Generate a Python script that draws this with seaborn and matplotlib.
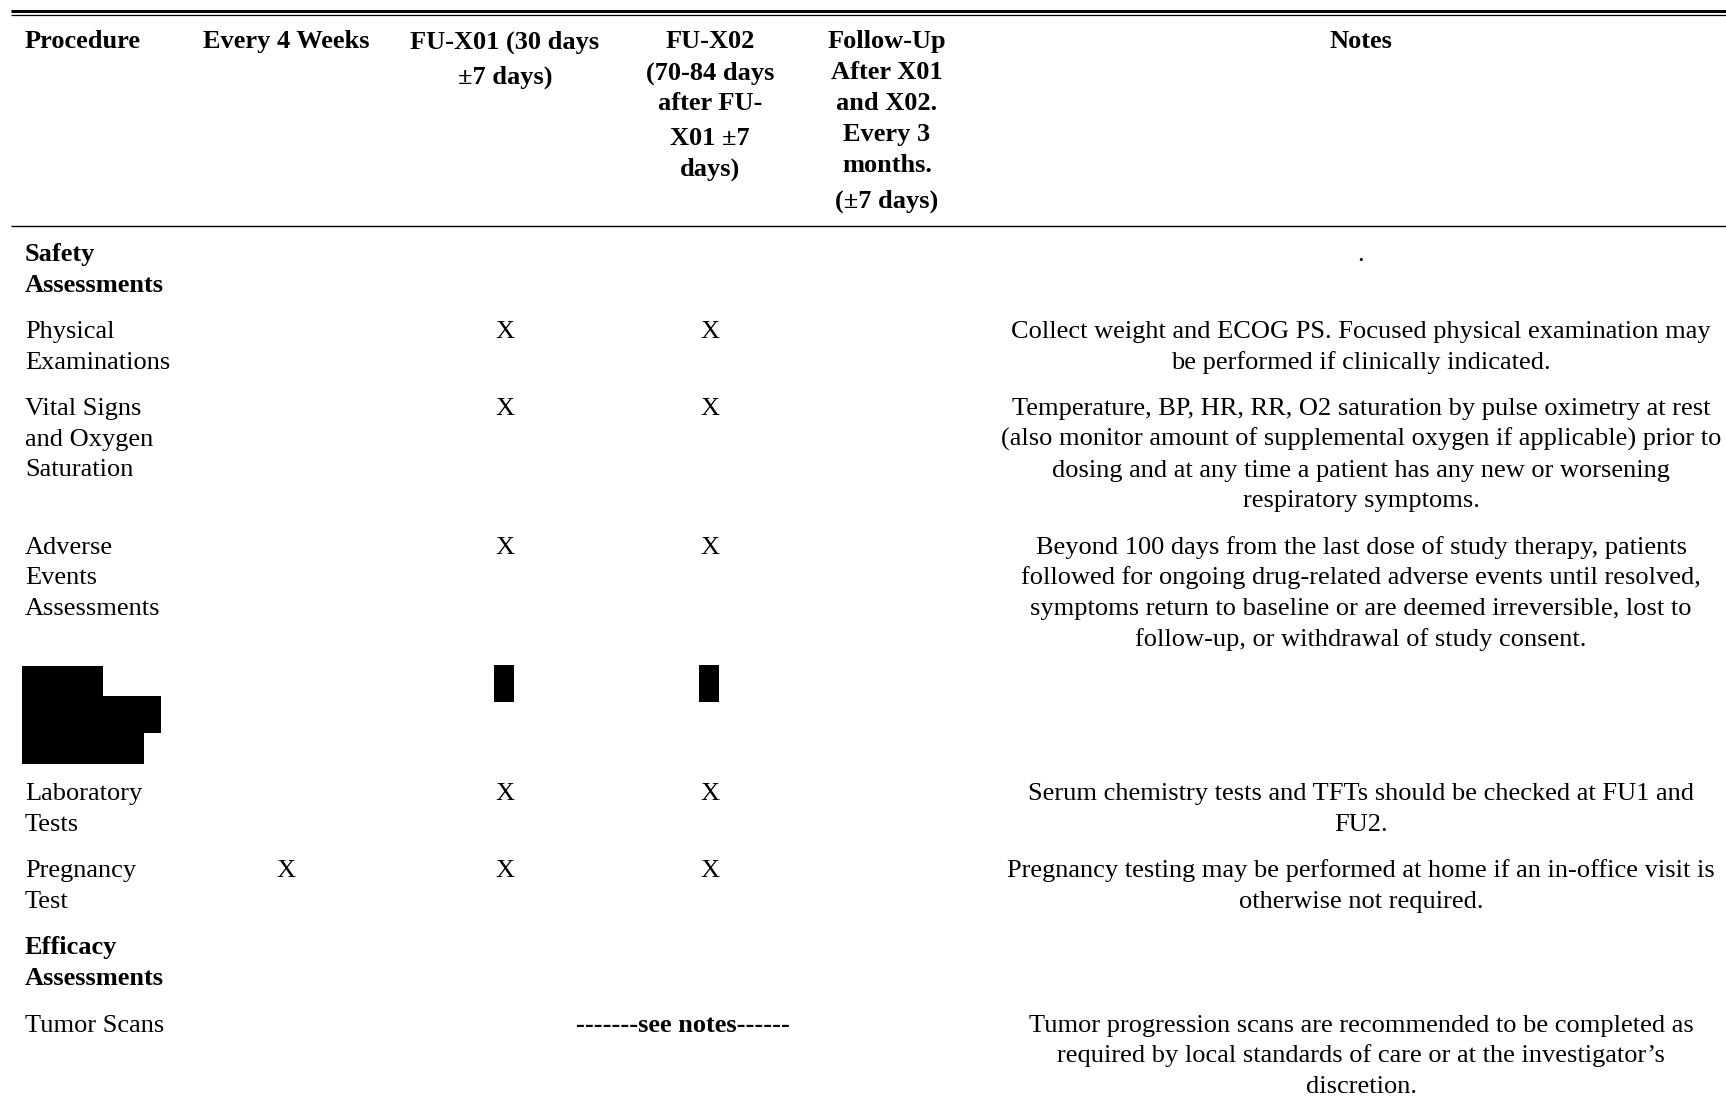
import matplotlib
matplotlib.use("Agg")
import matplotlib.pyplot as plt
from matplotlib.patches import Rectangle
import seaborn as sns

# table content
headers = [
    "Procedure",
    "Every 4 Weeks",
    "FU-X01 (30 days\n±7 days)",
    "FU-X02\n(70-84 days\nafter FU-\nX01 ±7\ndays)",
    "Follow-Up\nAfter X01\nand X02.\nEvery 3\nmonths.\n(±7 days)",
    "Notes",
]

procedures = [
    "Safety\nAssessments",
    "Physical\nExaminations",
    "Vital Signs\nand Oxygen\nSaturation",
    "Adverse\nEvents\nAssessments",
    "",
    "Laboratory\nTests",
    "Pregnancy\nTest",
    "Efficacy\nAssessments",
    "Tumor Scans",
]
section_rows = [True, False, False, False, False, False, False, True, False]
redacted_rows = [False, False, False, False, True, False, False, False, False]

every_4_weeks = ["", "", "", "", "", "", "X", "", ""]
fu_x01 = ["", "X", "X", "X", "", "X", "X", "", ""]
fu_x02 = ["", "X", "X", "X", "", "X", "X", "", ""]
follow_up = ["", "", "", "", "", "", "", "", ""]
spanning = ["", "", "", "", "", "", "", "", "-------see notes------"]

notes = [
    ".",
    "Collect weight and ECOG PS. Focused physical examination may\n"
    "be performed if clinically indicated.",
    "Temperature, BP, HR, RR, O2 saturation by pulse oximetry at rest\n"
    "(also monitor amount of supplemental oxygen if applicable) prior to\n"
    "dosing and at any time a patient has any new or worsening\n"
    "respiratory symptoms.",
    "Beyond 100 days from the last dose of study therapy, patients\n"
    "followed for ongoing drug-related adverse events until resolved,\n"
    "symptoms return to baseline or are deemed irreversible, lost to\n"
    "follow-up, or withdrawal of study consent.",
    "",
    "Serum chemistry tests and TFTs should be checked at FU1 and\nFU2.",
    "Pregnancy testing may be performed at home if an in-office visit is\n"
    "otherwise not required.",
    "",
    "Tumor progression scans are recommended to be completed as\n"
    "required by local standards of care or at the investigator\u2019s\n"
    "discretion.",
]

sns.set_theme(style="white")
plt.rcParams["font.family"] = ["Liberation Serif", "DejaVu Serif"]

W, H = 1726, 1107
FS = 19
STEP = 30.8
GAP = 15.5
BASE = 8.7  # baseline sits below the cap-height centre
fig = plt.figure(figsize=(W / 100, H / 100), dpi=100)
ax = fig.add_axes([0, 0, 1, 1])
ax.set_xlim(0, W)
ax.set_ylim(H, 0)
ax.axis("off")

col_x = [25, 286, 505, 710, 887, 1361]
col_ha = ["left", "center", "center", "center", "center", "center"]


def draw_lines(x, y, text, ha="center", weight="normal"):
    n = 0
    for line in text.split("\n"):
        if line.startswith("(±"):
            y += 5
        elif "±" in line:
            y += 4.5
        ax.text(x, y + BASE, line, ha=ha, va="baseline", fontsize=FS,
                fontweight=weight, color="black")
        y += STEP
        n += 1
    return n


# rules
ax.plot([11, W], [11, 11], color="black", lw=2.2, solid_capstyle="butt")
ax.plot([11, W], [14.8, 14.8], color="black", lw=0.9, solid_capstyle="butt")
ax.plot([11, W], [226, 226], color="black", lw=1.0, solid_capstyle="butt")

# header
for x, ha, h in zip(col_x, col_ha, headers):
    draw_lines(x, 39.6, h, ha=ha, weight="bold")

# body
y = 252
for i, proc in enumerate(procedures):
    weight = "bold" if section_rows[i] else "normal"
    n = 1
    if redacted_rows[i]:
        top = y - 18
        for (x0, x1, y0, y1) in [(22, 103, 0, 30), (22, 161, 30, 67), (22, 144, 67, 98)]:
            ax.add_patch(Rectangle((x0, top + y0), x1 - x0, y1 - y0, color="black", lw=0))
        for cx in (col_x[2], col_x[3]):
            ax.add_patch(Rectangle((cx - 11, top - 1), 20, 37, color="black", lw=0))
        n = 3
    else:
        n = max(n, draw_lines(col_x[0], y, proc, ha="left", weight=weight))
    for c, vals in zip(col_x[1:5], [every_4_weeks, fu_x01, fu_x02, follow_up]):
        if vals[i]:
            draw_lines(c, y, vals[i])
    if spanning[i]:
        draw_lines(683, y, spanning[i], weight="bold")
    if notes[i]:
        n = max(n, draw_lines(col_x[5], y, notes[i]))
    y += n * STEP + GAP

fig.savefig("out.png", dpi=100)
